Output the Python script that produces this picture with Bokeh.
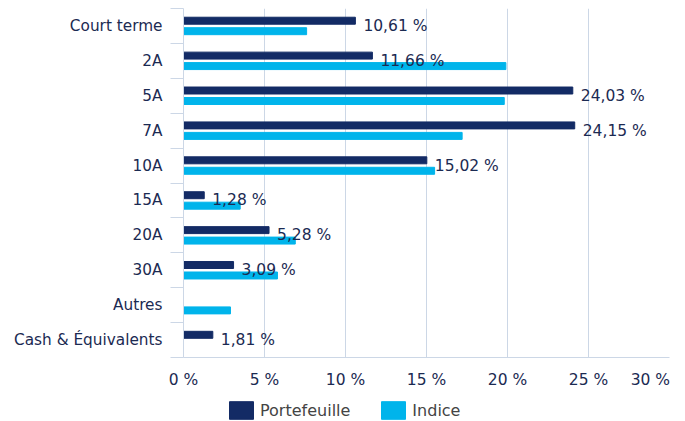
from bokeh.plotting import figure
from bokeh.layouts import column
from bokeh.models import Range1d, FixedTicker, Legend, LegendItem, ColumnDataSource
from bokeh.embed import file_html
from bokeh.resources import INLINE
from bokeh.core.properties import value

categories = ["Court terme", "2A", "5A", "7A", "10A", "15A", "20A", "30A", "Autres", "Cash & Équivalents"]
portefeuille = [10.61, 11.66, 24.03, 24.15, 15.02, 1.28, 5.28, 3.09, 0.0, 1.81]
indice = [7.6, 19.9, 19.8, 17.2, 15.5, 3.5, 6.9, 5.8, 2.9, 0.0]
x_ticks = [0, 5, 10, 15, 20, 25, 30]
x_tick_labels = ["0 %", "5 %", "10 %", "15 %", "20 %", "25 %", "30 %"]
series_names = ["Portefeuille", "Indice"]

NAVY = "#132b65"
CYAN = "#00b4eb"
GRID = "#ccd7e6"
TXT = "#1b2a52"
FONT = "DejaVu Sans"

n = len(categories)
pos = list(range(n))

p = figure(width=685, height=391, output_backend="svg", toolbar_location=None,
           x_range=Range1d(0, 30), y_range=Range1d(n - 0.5, -0.5),
           min_border_left=183, min_border_right=16, min_border_top=8, min_border_bottom=32)
p.outline_line_color = None
p.background_fill_color = "white"

src = ColumnDataSource(dict(
    yp=[v - 0.15 for v in pos],
    yi=[v + 0.15 for v in pos],
    port=portefeuille,
    ind=indice,
))
p.hbar(y="yp", left=0, right="port", height=0.2, color=NAVY, source=src)
p.hbar(y="yi", left=0, right="ind", height=0.2, color=CYAN, source=src)

lab_x = [v for v in portefeuille if v > 0]
lab_y = [pos[i] for i, v in enumerate(portefeuille) if v > 0]
lab_t = [("%.2f %%" % v).replace(".", ",") for v in portefeuille if v > 0]
p.text(x=lab_x, y=lab_y, text=lab_t, x_offset=8, text_baseline="middle", text_align="left",
       text_font=value(FONT), text_font_size="15.5px", text_color=TXT)

# x axis: the last label is pulled inward to stay inside the page, as in the reference
last_label_pos = x_ticks[-1] - 1.18
axis_ticks = x_ticks[:-1] + [last_label_pos]
p.xaxis.ticker = FixedTicker(ticks=axis_ticks)
overrides = {t: l for t, l in zip(x_ticks[:-1], x_tick_labels[:-1])}
overrides[last_label_pos] = x_tick_labels[-1]
p.xaxis.major_label_overrides = overrides
p.xaxis.major_tick_out = 0
p.xaxis.major_tick_in = 0
p.xaxis.minor_tick_out = 0
p.xaxis.minor_tick_in = 0
p.xaxis.axis_line_color = GRID
p.xaxis.major_label_text_font = FONT
p.xaxis.major_label_text_font_size = "15.5px"
p.xaxis.major_label_text_color = TXT
p.xaxis.major_label_standoff = 13
p.xgrid.ticker = FixedTicker(ticks=x_ticks)
p.xgrid.grid_line_color = GRID
p.ygrid.grid_line_color = None

# y axis
p.yaxis.ticker = FixedTicker(ticks=pos, minor_ticks=[v - 0.5 for v in pos] + [n - 0.5])
p.yaxis.major_label_overrides = {i: c for i, c in enumerate(categories)}
p.yaxis.major_tick_out = 0
p.yaxis.major_tick_in = 0
p.yaxis.minor_tick_out = 13
p.yaxis.minor_tick_in = 0
p.yaxis.minor_tick_line_color = GRID
p.yaxis.axis_line_color = GRID
p.yaxis.major_label_text_font = FONT
p.yaxis.major_label_text_font_size = "15.3px"
p.yaxis.major_label_text_color = TXT
p.yaxis.major_label_standoff = 8

# legend strip below the chart (its bars fall outside its own range, only the keys show)
pl = figure(width=685, height=30, output_backend="svg", toolbar_location=None,
            x_range=Range1d(0, 30), y_range=Range1d(100, 101),
            x_axis_location=None, y_axis_location=None, min_border=0)
pl.outline_line_color = None
pl.grid.visible = False
k1 = pl.hbar(y="yp", left=0, right="port", height=0.2, color=NAVY, source=src)
k2 = pl.hbar(y="yi", left=0, right="ind", height=0.2, color=CYAN, source=src)
legend = Legend(items=[LegendItem(label=series_names[0], renderers=[k1]),
                       LegendItem(label=series_names[1], renderers=[k2])],
                location=(43, 0), orientation="horizontal",
                glyph_width=30, glyph_height=22, label_height=18, label_standoff=4,
                spacing=28, padding=0, margin=0, border_line_color=None,
                background_fill_alpha=0, label_text_font=FONT, label_text_font_size="16px",
                label_text_color="#444444")
pl.add_layout(legend, "center")

layout = column(p, pl, spacing=0)
open("out.html", "w").write(file_html(layout, INLINE))
